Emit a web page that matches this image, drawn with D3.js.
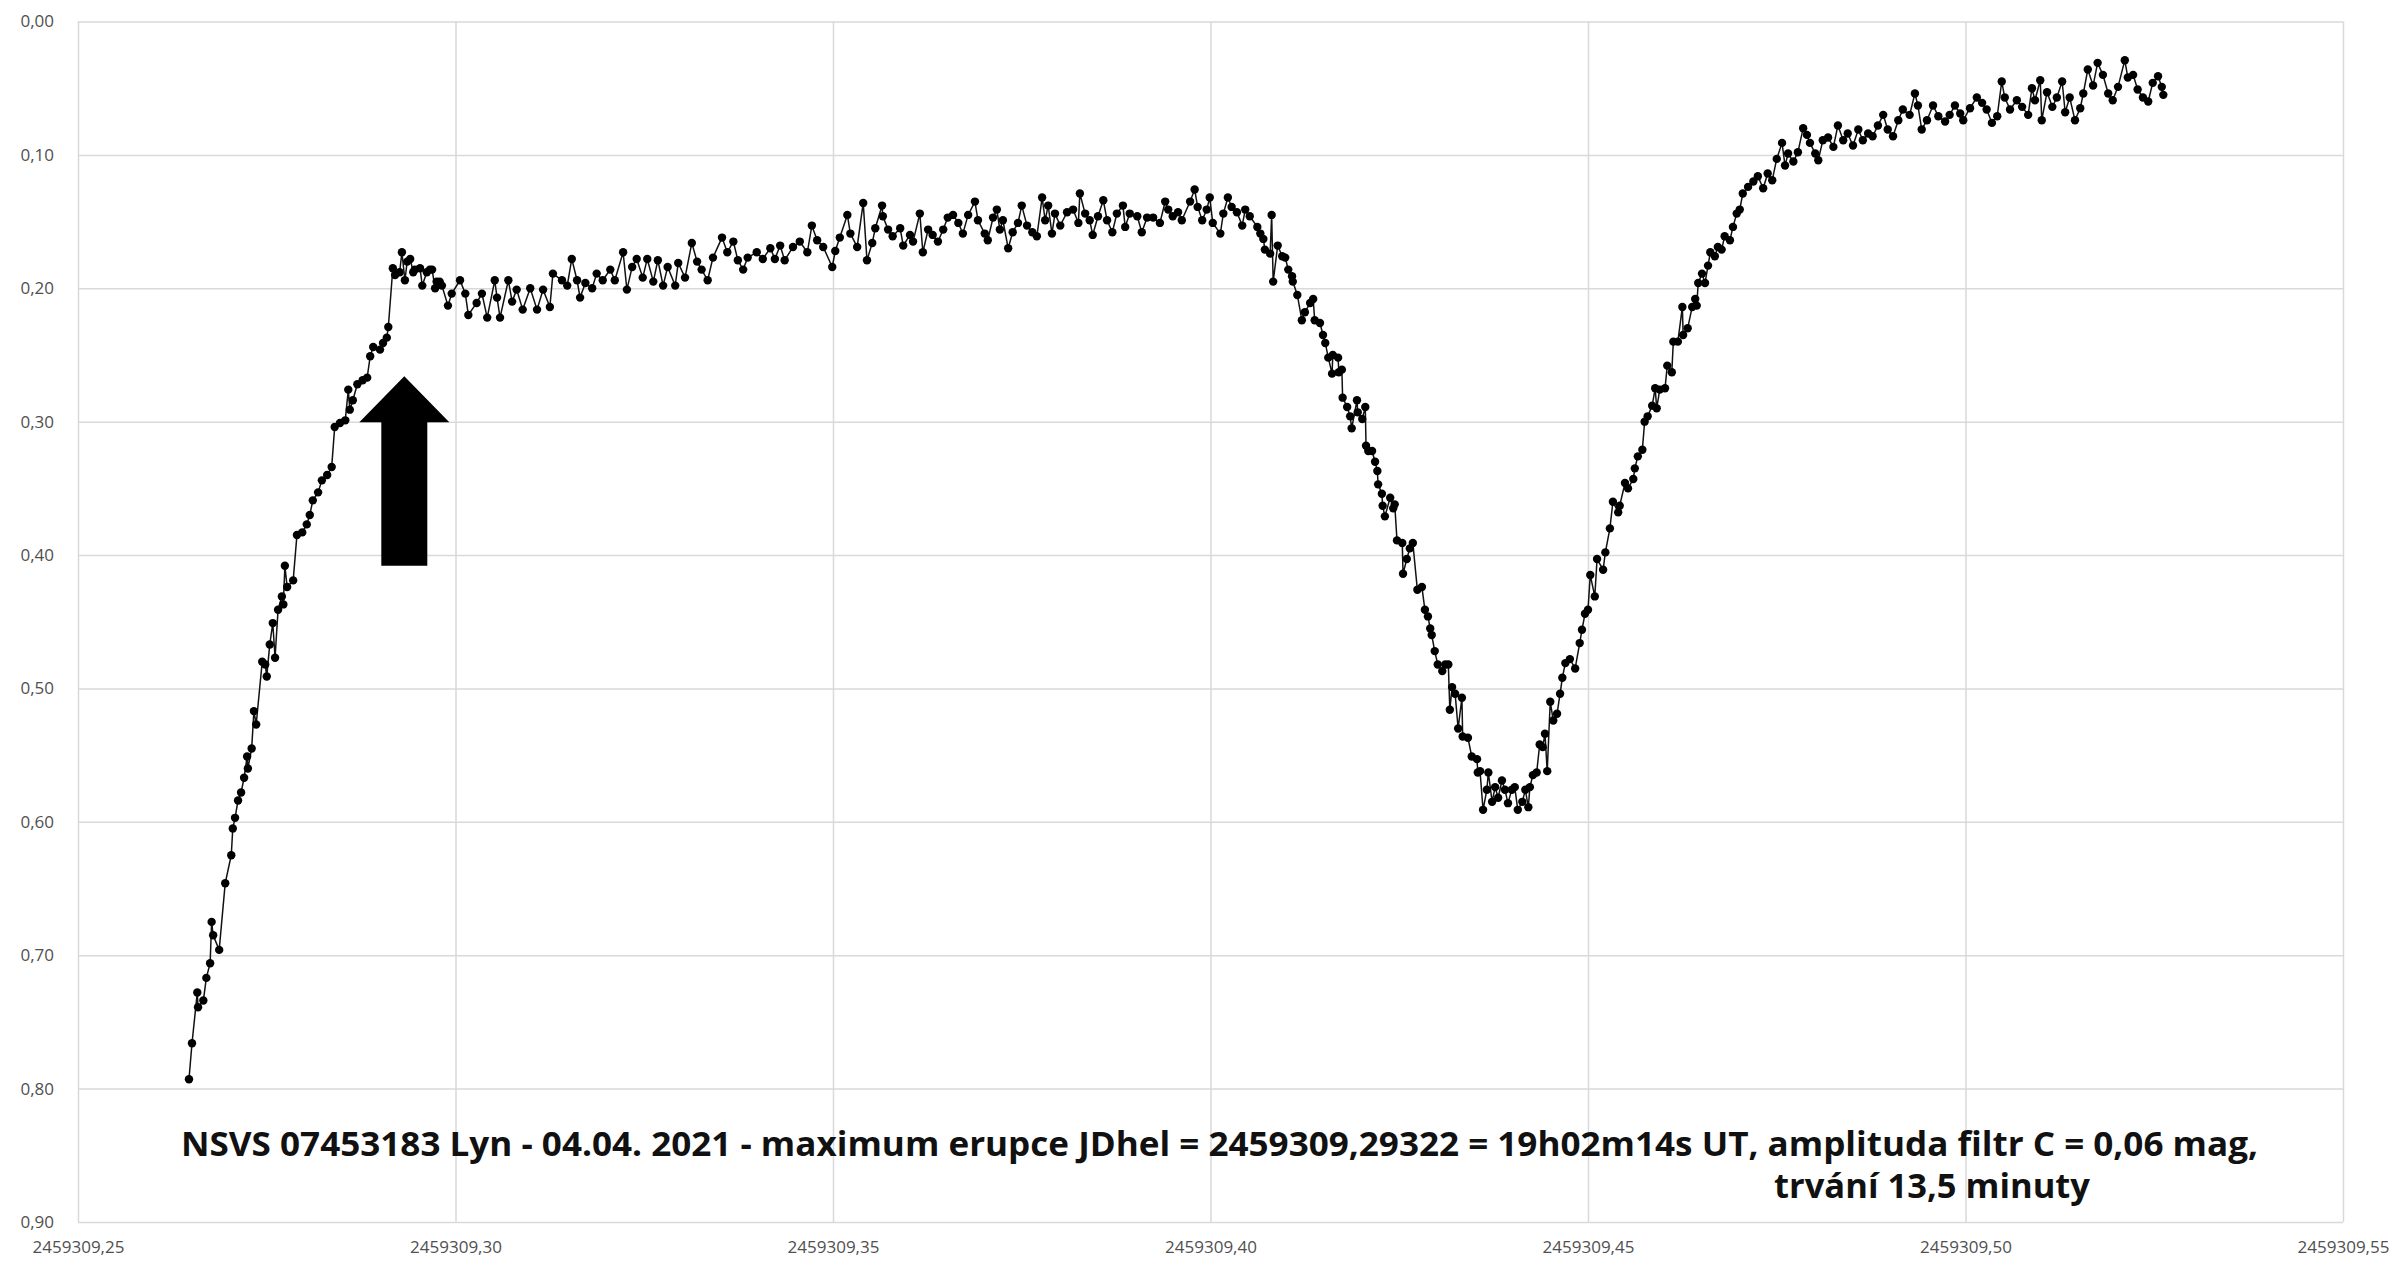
<!DOCTYPE html>
<html><head><meta charset="utf-8">
<script src="https://cdn.jsdelivr.net/npm/d3@7"></script>
<style>html,body{margin:0;padding:0;background:#fff;} svg{display:block;}</style>
</head><body><svg id="chart" width="2404" height="1265"></svg>
<script>
// Julian date (heliocentric) = jdDay + fraction
const jdDay = 2459309;
const jdFrac = [
.2647,.2651,.2658,.2659,.2666,.2670,.2675,.2677,.2679,.2687,.2695,.2703,.2705,.2708,.2712,.2716,.2720,.2724,.2725,.2730,
.2733,.2736,.2744,.2748,.2750,.2754,.2758,.2761,.2765,.2770,.2772,.2774,.2777,.2785,.2790,.2797,.2803,.2807,.2811,.2818,
.2823,.2830,.2836,.2840,.2847,.2854,.2858,.2860,.2864,.2870,.2877,.2883,.2887,.2891,.2900,.2904,.2909,.2911,.2917,.2920,
.2926,.2929,.2933,.2936,.2940,.2944,.2946,.2953,.2956,.2962,.2966,.2969,.2973,.2975,.2979,.2982,.2990,.2995,.3006,.3013,
.3017,.3028,.3035,.3042,.3052,.3055,.3059,.3070,.3075,.3081,.3089,.3099,.3108,.3116,.3125,.3129,.3141,.3148,.3154,.3161,
.3165,.3172,.3181,.3187,.3195,.3205,.3211,.3222,.3227,.3234,.3240,.3248,.3254,.3262,.3268,.3275,.3281,.3291,.3295,.3304,
.3313,.3320,.3326,.3334,.3341,.3353,.3360,.3368,.3374,.3381,.3387,.3399,.3407,.3417,.3423,.3430,.3436,.3447,.3456,.3466,
.3472,.3479,.3487,.3499,.3503,.3509,.3519,.3523,.3532,.3540,.3545,.3552,.3556,.3565,.3566,.3573,.3579,.3589,.3593,.3602,
.3606,.3615,.3619,.3626,.3632,.3639,.3646,.3652,.3659,.3666,.3672,.3679,.3688,.3692,.3701,.3705,.3712,.3717,.3721,.3725,
.3732,.3738,.3745,.3750,.3757,.3764,.3770,.3777,.3781,.3785,.3790,.3794,.3801,.3810,.3818,.3825,.3827,.3834,.3840,.3844,
.3851,.3858,.3863,.3870,.3876,.3884,.3887,.3893,.3903,.3909,.3916,.3924,.3933,.3940,.3944,.3950,.3957,.3962,.3973,.3979,
.3983,.3989,.3995,.3999,.4003,.4013,.4017,.4023,.4028,.4035,.4042,.4046,.4052,.4062,.4066,.4070,.4072,.4079,.4081,.4083,
.4089,.4095,.4099,.4103,.4108,.4109,.4115,.4121,.4125,.4132,.4136,.4138,.4145,.4149,.4152,.4156,.4161,.4162,.4169,.4170,
.4174,.4175,.4181,.4185,.4187,.4194,.4195,.4201,.4205,.4206,.4209,.4214,.4218,.4221,.4222,.4227,.4228,.4231,.4238,.4242,
.4244,.4247,.4254,.4255,.4260,.4264,.4268,.4274,.4280,.4284,.4288,.4291,.4293,.4297,.4301,.4307,.4311,.4315,.4317,.4320,
.4324,.4328,.4333,.4334,.4341,.4346,.4353,.4354,.4357,.4361,.4366,.4368,.4373,.4377,.4381,.4386,.4390,.4394,.4399,.4403,
.4407,.4413,.4417,.4421,.4423,.4427,.4432,.4436,.4440,.4443,.4446,.4450,.4454,.4459,.4463,.4466,.4470,.4476,.4483,.4489,
.4492,.4496,.4500,.4503,.4509,.4512,.4520,.4523,.4529,.4533,.4540,.4542,.4549,.4553,.4560,.4562,.4566,.4572,.4575,.4579,
.4585,.4589,.4591,.4595,.4602,.4605,.4611,.4613,.4619,.4625,.4626,.4632,.4638,.4642,.4644,.4646,.4651,.4655,.4659,.4662,
.4668,.4672,.4677,.4681,.4688,.4692,.4697,.4701,.4705,.4712,.4719,.4725,.4732,.4738,.4744,.4750,.4757,.4761,.4765,.4772,
.4778,.4785,.4790,.4794,.4801,.4805,.4811,.4818,.4825,.4831,.4838,.4844,.4851,.4858,.4864,.4871,.4877,.4884,.4891,.4897,
.4904,.4911,.4917,.4926,.4933,.4937,.4942,.4949,.4957,.4964,.4973,.4979,.4986,.4993,.4997,.5006,.5015,.5022,.5028,.5035,
.5042,.5048,.5052,.5059,.5068,.5075,.5083,.5088,.5092,.5099,.5101,.5108,.5115,.5121,.5128,.5132,.5138,.5145,.5152,.5156,
.5162,.5169,.5175,.5182,.5189,.5195,.5202,.5211,.5215,.5222,.5228,.5235,.5242,.5248,.5255,.5260,.5262
];
// magnitude (filter C), same order
const mag = [
.793,.766,.728,.739,.734,.717,.706,.675,.685,.696,.646,.625,.605,.597,.584,.578,.567,.551,.560,.545,
.517,.527,.480,.482,.491,.467,.451,.477,.441,.431,.437,.408,.424,.419,.385,.383,.377,.370,.359,.353,
.344,.340,.334,.304,.301,.299,.276,.291,.284,.272,.269,.267,.251,.244,.246,.241,.237,.229,.185,.190,
.188,.173,.194,.180,.178,.188,.186,.185,.198,.188,.186,.186,.200,.195,.195,.198,.213,.204,.194,.204,
.220,.211,.204,.222,.194,.207,.222,.194,.210,.201,.216,.200,.216,.201,.214,.189,.194,.198,.178,.194,
.207,.196,.200,.189,.194,.186,.194,.173,.201,.184,.178,.192,.178,.195,.179,.198,.184,.198,.181,.192,
.166,.180,.186,.194,.177,.162,.173,.165,.179,.186,.177,.173,.178,.170,.178,.168,.179,.169,.165,.173,
.153,.164,.169,.184,.172,.162,.145,.159,.169,.136,.179,.166,.155,.138,.146,.156,.161,.155,.168,.160,
.165,.144,.173,.156,.160,.165,.156,.147,.145,.151,.159,.145,.135,.149,.159,.164,.147,.141,.156,.149,
.170,.158,.151,.138,.153,.158,.161,.132,.149,.138,.159,.144,.153,.143,.141,.151,.129,.144,.149,.160,
.146,.134,.149,.158,.144,.138,.154,.144,.146,.158,.147,.147,.151,.135,.141,.146,.143,.149,.135,.126,
.139,.149,.141,.132,.151,.159,.144,.132,.139,.143,.153,.141,.146,.154,.159,.163,.171,.174,.145,.195,
.168,.176,.177,.186,.191,.195,.205,.224,.218,.211,.208,.224,.226,.235,.241,.252,.264,.250,.252,.263,
.261,.282,.289,.296,.305,.284,.293,.298,.289,.318,.322,.322,.330,.337,.347,.354,.363,.371,.357,.365,
.362,.389,.391,.414,.403,.395,.391,.426,.424,.441,.446,.455,.460,.472,.482,.487,.482,.482,.516,.499,
.504,.530,.507,.536,.537,.551,.553,.563,.562,.591,.576,.563,.585,.574,.582,.569,.576,.586,.576,.574,
.591,.585,.576,.589,.574,.565,.563,.542,.544,.534,.562,.510,.524,.519,.504,.492,.481,.478,.485,.466,
.456,.444,.441,.415,.431,.403,.411,.398,.380,.360,.368,.363,.346,.350,.343,.335,.326,.321,.300,.296,
.288,.275,.290,.276,.275,.258,.263,.240,.240,.214,.235,.230,.214,.208,.213,.196,.189,.196,.183,.173,
.176,.169,.171,.161,.164,.154,.144,.141,.129,.124,.120,.116,.125,.114,.119,.103,.091,.108,.099,.105,
.098,.080,.085,.091,.099,.104,.089,.087,.094,.078,.089,.084,.093,.081,.089,.084,.086,.078,.070,.081,
.086,.074,.066,.070,.054,.063,.081,.074,.063,.071,.075,.070,.063,.069,.074,.065,.057,.061,.066,.076,
.071,.045,.057,.066,.059,.064,.070,.050,.059,.044,.074,.053,.064,.057,.045,.068,.057,.074,.065,.054,
.036,.048,.031,.040,.054,.059,.049,.029,.042,.040,.051,.057,.060,.046,.041,.049,.055
];
const xTicks = [0.25, 0.30, 0.35, 0.40, 0.45, 0.50, 0.55];
const yTicks = [0, 0.1, 0.2, 0.3, 0.4, 0.5, 0.6, 0.7, 0.8, 0.9];
const titleLines = [
  "NSVS 07453183 Lyn - 04.04. 2021 - maximum erupce JDhel = 2459309,29322 = 19h02m14s UT, amplituda filtr C = 0,06 mag,",
  "trvání 13,5 minuty"
];
const eruptionJD = 0.29322;      // arrow position (fraction of day)
const arrowMag = [0.266, 0.408]; // arrow tip, arrow tail

const data = jdFrac.map((f, i) => ({ jd: jdDay + f, m: mag[i] }));

const svg = d3.select("#chart");
const L = 78, R = 2343, T = 21.5, B = 1222;
const x = d3.scaleLinear().domain([jdDay + xTicks[0], jdDay + xTicks[xTicks.length - 1]]).range([L, R]);
const y = d3.scaleLinear().domain([yTicks[0], yTicks[yTicks.length - 1]]).range([T, B]);
const comma = d => d.replace(".", ",");

const tickFont = "'Open Sans', 'Liberation Sans', sans-serif";

// Y axis + horizontal gridlines
const gy = svg.append("g").attr("transform", `translate(${L},0)`)
  .call(d3.axisLeft(y).tickValues(yTicks).tickSize(-(R - L)).tickPadding(24)
    .tickFormat(d => comma(d3.format(".2f")(d))));
gy.select(".domain").remove();
gy.selectAll("line").attr("stroke", "#d9d9d9").attr("stroke-width", 1.5);
gy.selectAll("text").attr("fill", "#505050").style("font-family", tickFont).style("font-size", "17px");

// X axis + vertical gridlines
const gx = svg.append("g").attr("transform", `translate(0,${B})`)
  .call(d3.axisBottom(x).tickValues(xTicks.map(t => jdDay + t)).tickSize(-(B - T)).tickPadding(19)
    .tickFormat(d => comma(d3.format(".2f")(d))));
gx.select(".domain").remove();
gx.selectAll("line").attr("stroke", "#d9d9d9").attr("stroke-width", 1.5);
gx.selectAll("text").attr("fill", "#505050").style("font-family", tickFont).style("font-size", "17px");

// Data line and markers
svg.append("path").datum(data)
  .attr("fill", "none").attr("stroke", "#111").attr("stroke-width", 1.5)
  .attr("d", d3.line().x(d => x(d.jd)).y(d => y(d.m)));
svg.append("g").selectAll("circle").data(data).join("circle")
  .attr("cx", d => x(d.jd)).attr("cy", d => y(d.m)).attr("r", 4.2).attr("fill", "#000");

// Arrow marking the eruption maximum
const ax = x(jdDay + eruptionJD), ty = y(arrowMag[0]), by = y(arrowMag[1]);
const headH = 46, headW = 45, shaftW = 23;
svg.append("path").attr("fill", "#000")
  .attr("d", `M${ax},${ty} L${ax + headW},${ty + headH} L${ax + shaftW},${ty + headH} L${ax + shaftW},${by}
              L${ax - shaftW},${by} L${ax - shaftW},${ty + headH} L${ax - headW},${ty + headH} Z`);

// Caption
const capFont = "'Open Sans', 'Liberation Sans', sans-serif";
svg.append("text").attr("x", 181).attr("y", 1156)
  .attr("textLength", 2077).attr("lengthAdjust", "spacingAndGlyphs")
  .style("font-family", capFont).style("font-weight", "bold").style("font-size", "34px").attr("fill", "#111")
  .text(titleLines[0]);
svg.append("text").attr("x", 1774).attr("y", 1198)
  .attr("textLength", 316).attr("lengthAdjust", "spacingAndGlyphs")
  .style("font-family", capFont).style("font-weight", "bold").style("font-size", "34px").attr("fill", "#111")
  .text(titleLines[1]);
</script>
</body></html>
